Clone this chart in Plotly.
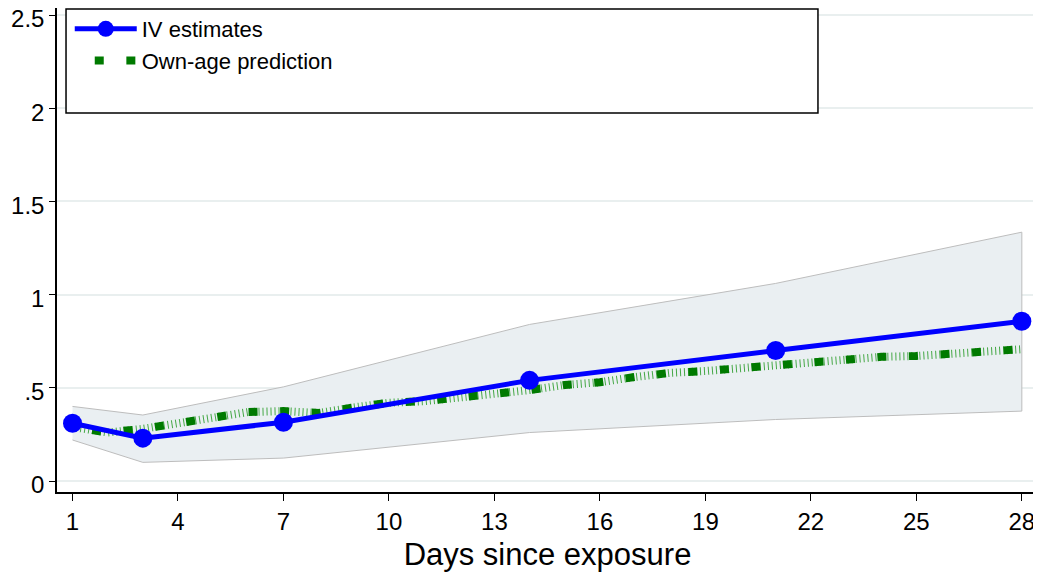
import plotly.graph_objects as go

# IV estimates
iv_days = [1, 3, 7, 14, 21, 28]
iv_est = [0.31, 0.23, 0.315, 0.54, 0.70, 0.857]
ci_upper = [0.40, 0.354, 0.505, 0.84, 1.06, 1.335]
ci_lower = [0.22, 0.10, 0.123, 0.26, 0.33, 0.375]

# Own-age prediction (daily)
pred_days = list(range(1, 29))
pred_vals = [0.29, 0.26, 0.28, 0.31, 0.34, 0.37, 0.375, 0.365, 0.395, 0.42,
             0.428, 0.445, 0.47, 0.488, 0.515, 0.53, 0.558, 0.58, 0.59, 0.605,
             0.628, 0.637, 0.652, 0.666, 0.671, 0.685, 0.70, 0.707]

x_ticks = [1, 4, 7, 10, 13, 16, 19, 22, 25, 28]
y_ticks = [0, 0.5, 1, 1.5, 2, 2.5]
y_ticklabels = ["0", ".5", "1", "1.5", "2", "2.5"]

FONT = "Liberation Sans, Arial, sans-serif"

fig = go.Figure()

# Confidence band
fig.add_trace(go.Scatter(
    x=iv_days + iv_days[::-1],
    y=ci_upper + ci_lower[::-1],
    fill="toself", fillcolor="rgba(234,239,242,1)",
    line=dict(color="#bdbdbd", width=1),
    mode="lines", showlegend=False, hoverinfo="skip"))

# Own-age prediction: hatch layer
fig.add_trace(go.Scatter(
    x=pred_days, y=pred_vals, mode="lines",
    line=dict(color="rgba(50,160,50,0.9)", width=8, dash="1px,3px"),
    showlegend=False, hoverinfo="skip"))

# Own-age prediction: square dashes
fig.add_trace(go.Scatter(
    x=pred_days, y=pred_vals, mode="lines", name="Own-age prediction",
    line=dict(color="#007a00", width=8, dash="0px,20px,9px,2.6px"),
    legendrank=2))

# IV estimates
fig.add_trace(go.Scatter(
    x=iv_days, y=iv_est, mode="lines+markers", name="IV estimates",
    line=dict(color="#0000ff", width=5),
    marker=dict(color="#0000ff", size=19),
    legendrank=1))

# Legend frame
fig.add_shape(type="rect", xref="paper", yref="paper",
              x0=0.0092, x1=0.7757, y0=0.783, y1=0.998,
              fillcolor="white", line=dict(color="black", width=1.5),
              layer="above")

fig.update_layout(
    width=1033, height=566,
    margin=dict(l=49, r=3, t=0, b=82),
    paper_bgcolor="white", plot_bgcolor="white",
    font=dict(family=FONT, color="black", size=22),
    legend=dict(x=0.013, y=1.0, xanchor="left", yanchor="top",
                bgcolor="rgba(0,0,0,0)", borderwidth=0,
                font=dict(family=FONT, size=22, color="black"),
                traceorder="normal", itemwidth=62),
    xaxis=dict(range=[0.559, 28.46], tickvals=x_ticks,
               ticks="outside", ticklen=7, tickcolor="black", tickwidth=1,
               showline=True, linecolor="black", linewidth=1.5,
               showgrid=False, zeroline=False, automargin=False,
               tickfont=dict(family=FONT, size=24),
               title=dict(text="Days since exposure",
                          font=dict(family=FONT, size=31), standoff=10)),
    yaxis=dict(range=[-0.059, 2.5376], tickvals=y_ticks, ticktext=y_ticklabels,
               ticks="outside", ticklen=6, tickcolor="black", tickwidth=1,
               showline=True, linecolor="black", linewidth=1.5,
               showgrid=True, gridcolor="#e9efef", gridwidth=1.5,
               zeroline=False, automargin=False, ticklabeloverflow="allow",
               ticklabelshift=4,
               tickfont=dict(family=FONT, size=24)),
)

fig.write_html("out.html")
